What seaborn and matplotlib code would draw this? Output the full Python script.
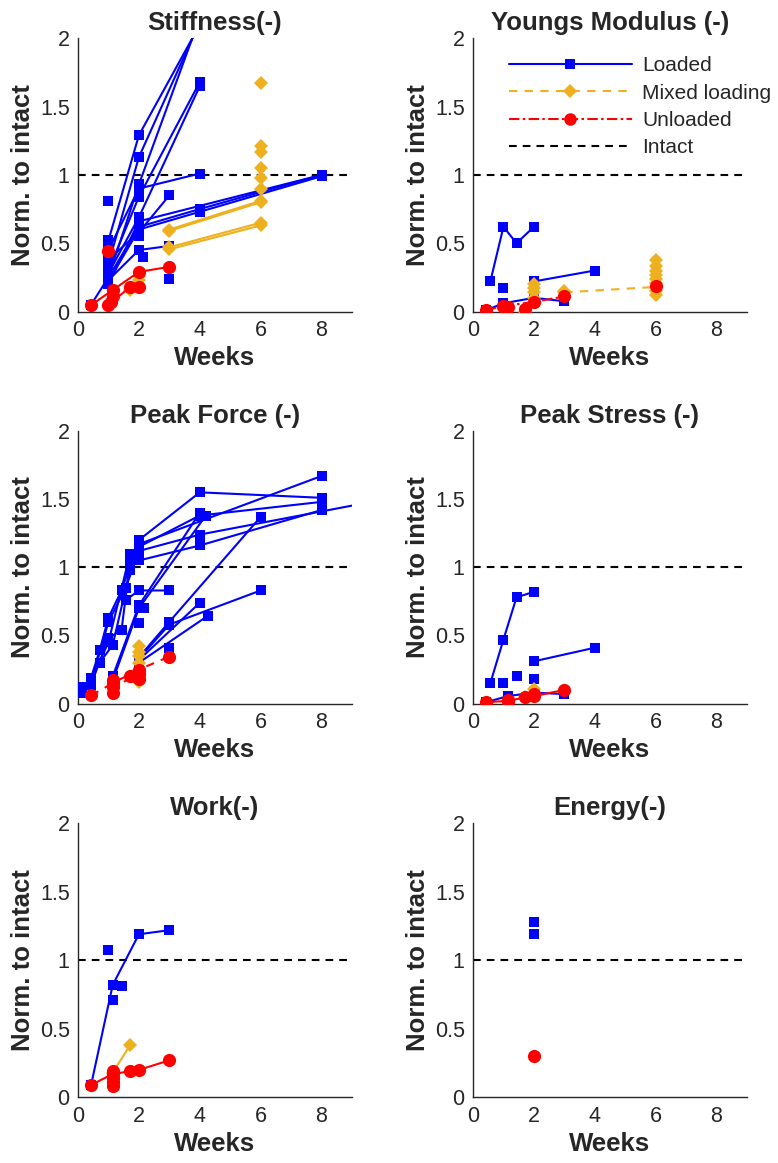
import numpy as np
import pandas as pd
import matplotlib
matplotlib.use("Agg")
import matplotlib.pyplot as plt
from matplotlib.lines import Line2D
import seaborn as sns

sns.set_style("white")
plt.rcParams['font.family'] = ['Liberation Sans', 'DejaVu Sans']

# ---------------- data (weeks, normalised to intact) ----------------
GROUPS = ["Loaded", "Mixed loading", "Unloaded"]
PANELS = ["Stiffness(-)", "Youngs Modulus (-)", "Peak Force (-)",
          "Peak Stress (-)", "Work(-)", "Energy(-)"]

# Stiffness
st_loaded = [
    ([0.43, 1.0, 2.0, 4.0], [0.05, 0.25, 0.93, 2.15]),
    ([1.0, 2.0, 4.0], [0.52, 1.29, 2.10]),
    ([1.0, 2.0, 4.0], [0.35, 1.13, 2.12]),
    ([1.0, 2.0, 4.0], [0.30, 0.84, 1.68]),
    ([1.0, 2.0, 4.0], [0.28, 0.69, 1.65]),
    ([1.0, 2.0, 4.0], [0.45, 0.90, 1.01]),
    ([1.0, 2.0, 4.0, 8.0], [0.25, 0.62, 0.75, 1.00]),
    ([1.0, 2.0, 4.0, 8.0], [0.22, 0.60, 0.73, 0.99]),
    ([1.0, 2.0, 8.0], [0.20, 0.66, 1.00]),
    ([1.0, 2.0, 3.0], [0.23, 0.45, 0.48]),
    ([1.0, 2.0, 3.0], [0.38, 0.58, 0.85]),
    ([1.0], [0.81]), ([3.0], [0.24]), ([2.14], [0.40]), ([2.0], [0.55]),
]
st_mixed = [
    ([3.0, 6.0], [0.60, 0.81]), ([3.0, 6.0], [0.59, 0.80]),
    ([3.0, 6.0], [0.47, 0.65]), ([3.0, 6.0], [0.455, 0.63]),
    ([6.0], [1.67]), ([6.0], [1.21]), ([6.0], [1.17]), ([6.0], [1.05]),
    ([6.0], [0.98]), ([6.0], [0.90]),
    ([2.0], [0.23]), ([2.0], [0.26]), ([1.71], [0.16]),
]
st_unloaded = [
    ([0.43, 1.14, 2.0, 3.0], [0.047, 0.157, 0.29, 0.327]),
    ([1.0, 1.71, 2.0], [0.047, 0.18, 0.18]),
    ([1.07], [0.07]), ([1.0], [0.44]), ([1.14], [0.11]),
]

# Youngs modulus
ym_loaded = [
    ([0.57, 1.0, 1.43, 2.0], [0.22, 0.62, 0.50, 0.62]),
    ([2.0, 4.0], [0.22, 0.30]),
    ([0.43, 1.0, 2.0, 3.0], [0.01, 0.06, 0.10, 0.075]),
    ([1.0], [0.17]),
]
ym_mixed = [
    ([3.0, 6.0], [0.14, 0.18]),
    ([2.0], [0.20]), ([2.0], [0.17]), ([2.0], [0.14]), ([2.0], [0.10]),
    ([2.0], [0.07]), ([1.71], [0.0]), ([3.0], [0.15]),
    ([6.0], [0.38]), ([6.0], [0.33]), ([6.0], [0.30]), ([6.0], [0.27]),
    ([6.0], [0.24]), ([6.0], [0.21]), ([6.0], [0.15]), ([6.0], [0.12]),
]
ym_unloaded = [
    ([0.43, 1.0], [0.01, 0.04]),
    ([1.0, 2.0, 3.0], [0.04, 0.07, 0.11]),
    ([1.1], [0.01]), ([1.14], [0.03]), ([1.71], [0.02]), ([6.0], [0.19]),
]

# Peak force
pf_loaded = [
    ([0.14, 0.43, 0.71, 1.0, 1.43, 2.0, 4.0, 8.0], [0.12, 0.19, 0.39, 0.63, 0.83, 1.20, 1.55, 1.51]),
    ([0.14, 0.43, 1.0, 1.43, 1.71, 2.0, 8.0], [0.10, 0.14, 0.48, 0.54, 1.04, 1.17, 1.67]),
    ([0.43, 0.71, 1.14, 1.71, 2.0, 4.0, 8.0], [0.19, 0.30, 0.43, 0.98, 1.15, 1.38, 1.48]),
    ([0.43, 1.0, 1.57, 2.0, 4.0, 12.0], [0.15, 0.60, 0.85, 1.12, 1.24, 1.58]),
    ([0.43, 1.0, 1.71, 2.0, 4.0, 8.0], [0.17, 0.45, 1.10, 1.05, 1.16, 1.42]),
    ([1.14, 2.0, 4.0], [0.20, 0.72, 1.40]),
    ([1.14, 2.0, 4.2], [0.17, 0.70, 1.38]),
    ([1.57, 2.0, 3.0], [0.76, 0.83, 0.83]),
    ([2.0, 3.0, 6.0], [0.34, 0.60, 1.37]),
    ([2.0, 4.0], [0.32, 0.74]),
    ([2.0, 4.27], [0.30, 0.645]),
    ([2.0, 3.0, 6.0], [0.33, 0.58, 0.83]),
    ([2.0], [0.59]), ([2.16], [0.70]), ([3.0], [0.41]), ([1.14], [0.10]),
    ([0.14], [0.075]),
]
pf_mixed = [
    ([2.0], [0.42]), ([2.0], [0.38]), ([2.0], [0.35]), ([2.0], [0.30]),
    ([2.0], [0.25]), ([2.0], [0.20]), ([2.0], [0.16]),
]
pf_unloaded = [
    ([0.43, 1.14, 2.0, 3.0], [0.06, 0.15, 0.25, 0.345]),
    ([1.14, 1.71, 2.0], [0.08, 0.20, 0.22]),
    ([1.14], [0.12]), ([1.14], [0.17]), ([1.86], [0.20]), ([2.0], [0.18]),
]

# Peak stress
ps_loaded = [
    ([0.57, 1.0, 1.43, 2.0], [0.15, 0.47, 0.78, 0.82]),
    ([2.0, 4.0], [0.31, 0.41]),
    ([0.43, 1.14, 2.0, 3.0], [0.01, 0.055, 0.08, 0.07]),
    ([1.0], [0.15]), ([1.43], [0.20]), ([2.0], [0.18]),
]
ps_mixed = [([2.0], [0.11]), ([1.71], [0.05])]
ps_unloaded = [
    ([0.43, 1.14, 1.71, 2.0, 3.0], [0.01, 0.02, 0.045, 0.055, 0.10]),
    ([1.14], [0.03]), ([2.0], [0.07]),
]

# Work
w_loaded = [
    ([0.43, 1.14, 2.0, 3.0], [0.09, 0.82, 1.19, 1.22]),
    ([1.0], [1.075]), ([1.14], [0.71]), ([1.43], [0.81]),
]
w_mixed = [([1.14, 1.71], [0.18, 0.38])]
w_unloaded = [
    ([0.43, 1.14, 1.71, 2.0, 3.0], [0.09, 0.17, 0.19, 0.20, 0.27]),
    ([1.14], [0.14]), ([1.14], [0.11]), ([1.14], [0.08]), ([1.14], [0.19]),
]

# Energy
e_loaded = [([2.0], [1.28]), ([2.0], [1.19])]
e_mixed = []
e_unloaded = [([2.0], [0.30])]

x_ticks = [0, 2, 4, 6, 8]
y_ticks = [0, 0.5, 1, 1.5, 2]
y_tick_labels = ["0", "0.5", "1", "1.5", "2"]

# ---------------- build long table ----------------
panel_series = {
    PANELS[0]: (st_loaded, st_mixed, st_unloaded),
    PANELS[1]: (ym_loaded, ym_mixed, ym_unloaded),
    PANELS[2]: (pf_loaded, pf_mixed, pf_unloaded),
    PANELS[3]: (ps_loaded, ps_mixed, ps_unloaded),
    PANELS[4]: (w_loaded, w_mixed, w_unloaded),
    PANELS[5]: (e_loaded, e_mixed, e_unloaded),
}
rows = []
sid = 0
for p, triple in panel_series.items():
    for g, series in zip(GROUPS, triple):
        for xs, ys in series:
            for xv, yv in zip(xs, ys):
                rows.append((p, g, sid, xv, yv))
            sid += 1
df = pd.DataFrame(rows, columns=["panel", "group", "sid", "week", "value"])

# ---------------- styling ----------------
COLORS = {"Loaded": "#0000FF", "Mixed loading": "#EDB120", "Unloaded": "#FF0000"}
MARKERS = {"Loaded": "s", "Mixed loading": "D", "Unloaded": "o"}
MSIZE = {"Loaded": 7.5, "Mixed loading": 7.5, "Unloaded": 9.5}
DASHDOT = (0, (5, 1.6, 1.2, 1.6))
DASHED = (0, (4, 3.5))
LSTYLE = {
    PANELS[0]: {"Loaded": "-", "Mixed loading": "-", "Unloaded": "-"},
    PANELS[1]: {"Loaded": "-", "Mixed loading": DASHED, "Unloaded": DASHDOT},
    PANELS[2]: {"Loaded": "-", "Mixed loading": "-", "Unloaded": DASHED},
    PANELS[3]: {"Loaded": "-", "Mixed loading": "-", "Unloaded": "-"},
    PANELS[4]: {"Loaded": "-", "Mixed loading": "-", "Unloaded": "-"},
    PANELS[5]: {"Loaded": "-", "Mixed loading": "-", "Unloaded": "-"},
}
DARK = "#262626"

fig = plt.figure(figsize=(7.78, 11.63), dpi=100)
W, H = 778.0, 1163.0
col_lefts = [78 / W, 473 / W]
col_w = 274 / W
row_specs = [(311.5, 273.2), (703.6, 272.6), (1097.3, 274.0)]

for i, p in enumerate(PANELS):
    r, c = divmod(i, 2)
    y0, hpx = row_specs[r]
    ax = fig.add_axes([col_lefts[c], 1 - y0 / H, col_w, hpx / H])
    ax.axhline(1, color="black", lw=1.5, ls=(0, (3.7, 2.9)), zorder=1)
    for g in GROUPS:
        sub = df[(df.panel == p) & (df.group == g)]
        if sub.empty:
            continue
        sns.lineplot(data=sub, x="week", y="value", units="sid", estimator=None,
                     sort=False, color=COLORS[g], marker=MARKERS[g],
                     markersize=MSIZE[g], markeredgewidth=0,
                     linewidth=1.5, linestyle=LSTYLE[p][g], ax=ax,
                     legend=False, zorder=3)
    ax.set_xlim(0, 9)
    ax.set_ylim(0, 2)
    ax.set_xticks(x_ticks)
    ax.set_yticks(y_ticks)
    ax.set_yticklabels(y_tick_labels)
    ax.tick_params(direction="in", length=5, width=1, colors=DARK,
                   labelsize=15.5, pad=6)
    for s in ["top", "right"]:
        ax.spines[s].set_visible(False)
    for s in ["left", "bottom"]:
        ax.spines[s].set_color(DARK)
        ax.spines[s].set_linewidth(1)
    ax.set_title(p, fontsize=18.5, fontweight="bold", pad=6)
    ax.set_xlabel("Weeks", fontsize=18.5, fontweight="bold", labelpad=4)
    ax.set_ylabel("Norm. to intact", fontsize=18.5, fontweight="bold", labelpad=3)

    if i == 1:
        handles = [
            Line2D([], [], color=COLORS["Loaded"], marker="s", markersize=7,
                   markeredgewidth=0, lw=1.5, ls="-"),
            Line2D([], [], color=COLORS["Mixed loading"], marker="D", markersize=7,
                   markeredgewidth=0, lw=1.5, ls=DASHED),
            Line2D([], [], color=COLORS["Unloaded"], marker="o", markersize=9,
                   markeredgewidth=0, lw=1.5, ls=DASHDOT),
            Line2D([], [], color="black", lw=1.5, ls=(0, (3.7, 2.9))),
        ]
        ax.legend(handles, ["Loaded", "Mixed loading", "Unloaded", "Intact"],
                  loc="upper left", bbox_to_anchor=(0.1, 0.965), frameon=False,
                  fontsize=15, handlelength=5.9, handletextpad=0.5,
                  labelspacing=0.4, borderaxespad=0, numpoints=1)

fig.savefig("out.png", dpi=100)
